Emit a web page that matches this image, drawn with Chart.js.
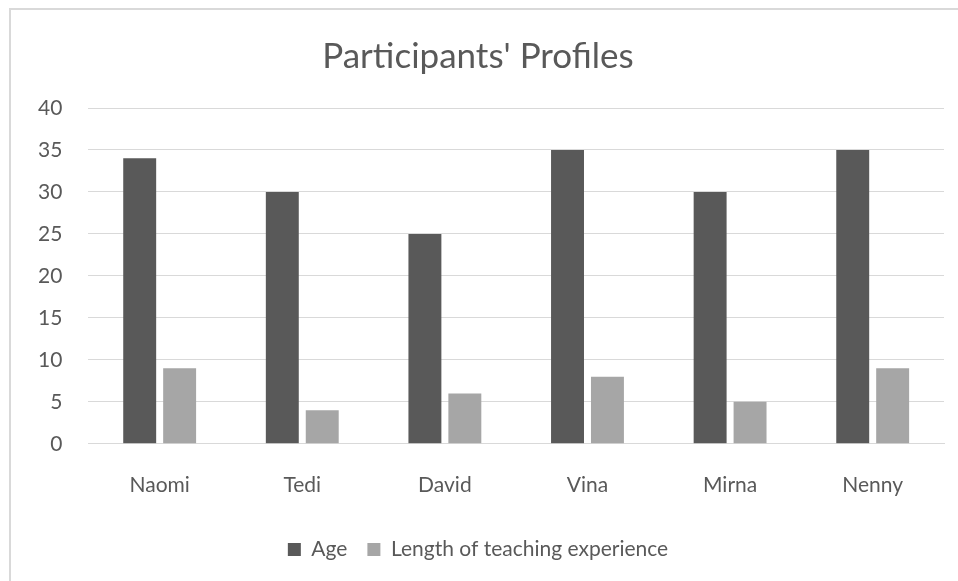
<!DOCTYPE html>
<html>
<head>
<meta charset="utf-8">
<script src="https://cdn.jsdelivr.net/npm/chart.js@4"></script>
<style>
  body { margin: 0; background: #fff; }
  #frame {
    position: absolute; left: 9px; top: 8px; width: 949px; height: 573px;
    border-left: 2px solid #d9d9d9; border-top: 2px solid #d9d9d9;
  }
</style>
</head>
<body>
<div id="frame"><canvas id="chart-profiles" width="947" height="571"></canvas></div>
<script>
const participants = ['Naomi', 'Tedi', 'David', 'Vina', 'Mirna', 'Nenny'];
const ageValues = [34, 30, 25, 35, 30, 35];
const experienceValues = [9, 4, 6, 8, 5, 9];
const yTicks = [0, 5, 10, 15, 20, 25, 30, 35, 40];

const FONT = 'Lato, "Open Sans", sans-serif';
const TEXT = '#595959';

new Chart(document.getElementById('chart-profiles'), {
  type: 'bar',
  data: {
    labels: participants,
    datasets: [
      { label: 'Age', data: ageValues, backgroundColor: '#595959' },
      { label: 'Length of teaching experience', data: experienceValues, backgroundColor: '#a6a6a6' }
    ]
  },
  options: {
    responsive: false,
    animation: false,
    categoryPercentage: 0.56,
    barPercentage: 0.825,
    layout: { padding: { left: 1, right: 14, top: 16, bottom: 11 } },
    scales: {
      x: {
        grid: { display: false },
        border: { color: '#d9d9d9' },
        ticks: { color: TEXT, font: { family: FONT, size: 21 }, padding: 21 }
      },
      y: {
        min: 0, max: 40,
        afterBuildTicks: (axis) => { axis.ticks = yTicks.map(v => ({ value: v })); },
        grid: { color: '#d9d9d9', drawTicks: false },
        border: { display: false },
        ticks: { color: TEXT, font: { family: FONT, size: 21 }, padding: 26 }
      }
    },
    plugins: {
      title: {
        display: true, text: "Participants' Profiles", color: TEXT,
        font: { family: FONT, size: 35, weight: 'normal' }, padding: { top: 10, bottom: 30 }
      },
      legend: {
        position: 'bottom',
        labels: { color: TEXT, font: { family: FONT, size: 21 }, boxWidth: 13, boxHeight: 13, padding: 20 }
      },
      tooltip: { enabled: false }
    }
  }
});
</script>
</body>
</html>
